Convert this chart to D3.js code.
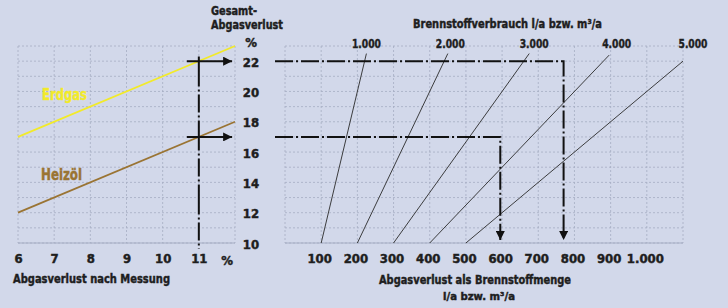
<!DOCTYPE html>
<html>
<head>
<meta charset="utf-8">
<script src="https://cdn.jsdelivr.net/npm/d3@7"></script>
<style>
  body { margin: 0; background: #d2d8ea; }
  text { font-family: "Liberation Sans Narrow", "DejaVu Sans Condensed", sans-serif; font-weight: bold; fill: #1e1e1e; stroke: #1e1e1e; stroke-width: 0.45px; }
</style>
</head>
<body>
<div id="chart"></div>
<script>
var width = 728, height = 308;

// left panel: measured loss (%) -> total loss (%)
var measuredTicks = [6, 7, 8, 9, 10, 11];
var totalTicks = [10, 12, 14, 16, 18, 20, 22];
var erdgas = [[6, 17], [12, 23]];
var heizoel = [[6, 12], [12, 18]];

// right panel: fuel consumption lines
var consumption = [1000, 2000, 3000, 4000, 5000];
var consumptionTop = [22.5, 22.5, 22.5, 22.4, 22];   // total loss % where each line stops
var amountTicks = [100, 200, 300, 400, 500, 600, 700, 800, 900, 1000];

// worked example
var exampleMeasured = 11;
var exampleTotals = [22, 17];
var exampleConsumption = 3500;

var svg = d3.select('#chart').append('svg')
  .attr('width', width)
  .attr('height', height)
  .style('background-color', '#d2d8ea');

var y = d3.scaleLinear().domain([10, 23]).range([243, 46]);
var xL = d3.scaleLinear().domain([6, 12]).range([18, 235]);
var xR = d3.scaleLinear().domain([0, 1100]).range([285, 683]);

var num = function(d) { return d3.format(',')(d).replace(',', '.'); };

var defs = svg.append('defs');
defs.append('marker')
  .attr('id', 'arrow')
  .attr('viewBox', '0 0 10 10')
  .attr('refX', 10).attr('refY', 5)
  .attr('markerWidth', 10).attr('markerHeight', 9)
  .attr('markerUnits', 'userSpaceOnUse')
  .attr('orient', 'auto')
.append('path')
  .attr('d', 'M0,0L10,5L0,10Z')
  .attr('fill', '#111');

// grid
var grid = svg.append('g')
  .attr('stroke', '#a6adc3')
  .attr('stroke-width', 0.8)
  .attr('stroke-dasharray', '2,2');

var yGrid = d3.range(10, 24);

grid.selectAll('.gl-v')
  .data(d3.range(6, 13))
  .enter().append('line')
  .attr('x1', function(d) { return xL(d); })
  .attr('x2', function(d) { return xL(d); })
  .attr('y1', y(23)).attr('y2', y(10));

grid.selectAll('.gl-h')
  .data(yGrid)
  .enter().append('line')
  .attr('x1', xL(6)).attr('x2', xL(12))
  .attr('y1', function(d) { return y(d); })
  .attr('y2', function(d) { return y(d); });

grid.selectAll('.gr-v')
  .data(d3.range(0, 1101, 100))
  .enter().append('line')
  .attr('x1', function(d) { return xR(d); })
  .attr('x2', function(d) { return xR(d); })
  .attr('y1', y(23)).attr('y2', y(10));

grid.selectAll('.gr-h')
  .data(yGrid)
  .enter().append('line')
  .attr('x1', xR(0)).attr('x2', xR(1100))
  .attr('y1', function(d) { return y(d); })
  .attr('y2', function(d) { return y(d); });

// baselines
svg.append('line')
  .attr('x1', xL(6)).attr('x2', xL(12))
  .attr('y1', y(10)).attr('y2', y(10))
  .attr('stroke', '#a6adc3').attr('stroke-width', 1.2);
svg.append('line')
  .attr('x1', xR(0)).attr('x2', xR(1100))
  .attr('y1', y(10)).attr('y2', y(10))
  .attr('stroke', '#a6adc3').attr('stroke-width', 1.2);

// fuel lines
var lineL = d3.line()
  .x(function(d) { return xL(d[0]); })
  .y(function(d) { return y(d[1]); });

svg.append('path')
  .attr('d', lineL(erdgas))
  .attr('fill', 'none')
  .attr('stroke', '#f2ea2a')
  .attr('stroke-width', 1.8);

svg.append('path')
  .attr('d', lineL(heizoel))
  .attr('fill', 'none')
  .attr('stroke', '#9a7433')
  .attr('stroke-width', 1.8);

svg.append('text')
  .attr('x', 42).attr('y', 100)
  .attr('font-size', '16px')
  .attr('textLength', 45).attr('lengthAdjust', 'spacingAndGlyphs')
  .style('fill', '#f2ea2a').style('stroke', '#f2ea2a')
  .text('Erdgas');

svg.append('text')
  .attr('x', 41).attr('y', 180)
  .attr('font-size', '16px')
  .attr('textLength', 41).attr('lengthAdjust', 'spacingAndGlyphs')
  .style('fill', '#9a7433').style('stroke', '#9a7433')
  .text('Heizöl');

// consumption lines
svg.selectAll('.cons')
  .data(consumption)
  .enter().append('line')
  .attr('x1', function(d) { return xR(d * 10 / 100); })
  .attr('y1', y(10))
  .attr('x2', function(d, i) { return xR(d * consumptionTop[i] / 100); })
  .attr('y2', function(d, i) { return y(consumptionTop[i]); })
  .attr('stroke', '#2a2a2a')
  .attr('stroke-width', 0.9);

svg.selectAll('.cons-label')
  .data(consumption)
  .enter().append('text')
  .attr('x', function(d, i) { return xR(d * consumptionTop[i] / 100) + i * 2.5; })
  .attr('y', 48)
  .attr('text-anchor', 'middle')
  .attr('font-size', '13px')
  .attr('textLength', 29).attr('lengthAdjust', 'spacingAndGlyphs')
  .text(num);

svg.append('text')
  .attr('x', 413).attr('y', 28)
  .attr('font-size', '13px')
  .attr('textLength', 189).attr('lengthAdjust', 'spacingAndGlyphs')
  .text('Brennstoffverbrauch l/a  bzw.  m³/a');

// axes
var axL = svg.append('g')
  .attr('transform', 'translate(0,' + (y(10) + 11) + ')')
  .call(d3.axisBottom(xL).tickValues(measuredTicks).tickSize(0).tickPadding(0)
    .tickFormat(d3.format('d')));
axL.select('.domain').remove();
axL.selectAll('text').attr('font-size', '13px').attr('font-family', null).attr('fill', null);

svg.append('text')
  .attr('x', 227).attr('y', y(10) + 22)
  .attr('text-anchor', 'middle')
  .attr('font-size', '13px')
  .text('%');

var axMid = svg.append('g')
  .attr('transform', 'translate(251,0)')
  .call(d3.axisRight(y).tickValues(totalTicks).tickSize(0).tickPadding(0));
axMid.select('.domain').remove();
axMid.selectAll('text').attr('font-size', '13px').attr('font-family', null).attr('fill', null)
  .attr('text-anchor', 'middle').attr('dy', '0.4em');

svg.append('text').attr('x', 251).attr('y', 47).attr('text-anchor', 'middle')
  .attr('font-size', '13px').text('%');
svg.append('text').attr('x', 211).attr('y', 15).attr('font-size', '13px')
  .attr('textLength', 46).attr('lengthAdjust', 'spacingAndGlyphs').text('Gesamt-');
svg.append('text').attr('x', 211).attr('y', 29).attr('font-size', '13px')
  .attr('textLength', 72).attr('lengthAdjust', 'spacingAndGlyphs').text('Abgasverlust');

var axR = svg.append('g')
  .attr('transform', 'translate(-2,' + (y(10) + 11) + ')')
  .call(d3.axisBottom(xR).tickValues(amountTicks).tickSize(0).tickPadding(0)
    .tickFormat(num));
axR.select('.domain').remove();
axR.selectAll('text').attr('font-size', '13px').attr('font-family', null).attr('fill', null);

svg.append('text')
  .attr('x', 13).attr('y', 283)
  .attr('font-size', '13px')
  .attr('textLength', 157).attr('lengthAdjust', 'spacingAndGlyphs')
  .text('Abgasverlust nach Messung');

svg.append('text')
  .attr('x', 379).attr('y', 284)
  .attr('font-size', '13px')
  .attr('textLength', 192).attr('lengthAdjust', 'spacingAndGlyphs')
  .text('Abgasverlust als Brennstoffmenge');

svg.append('text')
  .attr('x', 443).attr('y', 300)
  .attr('font-size', '11px')
  .attr('textLength', 72).attr('lengthAdjust', 'spacingAndGlyphs')
  .text('l/a  bzw.  m³/a');

// worked example
var dashDot = '18,3,2,3';

svg.append('line')
  .attr('x1', xL(exampleMeasured)).attr('x2', xL(exampleMeasured))
  .attr('y1', y(22.3)).attr('y2', y(9.6))
  .attr('stroke', '#111').attr('stroke-width', 2)
  .attr('stroke-dasharray', '30,3,2,3,18,3,2,3');

svg.selectAll('.ex-arrow')
  .data(exampleTotals)
  .enter().append('line')
  .attr('x1', xL(exampleMeasured) - 12)
  .attr('x2', xL(11.92))
  .attr('y1', function(d) { return y(d); })
  .attr('y2', function(d) { return y(d); })
  .attr('stroke', '#111').attr('stroke-width', 2)
  .attr('marker-end', 'url(#arrow)');

svg.selectAll('.ex-path')
  .data(exampleTotals)
  .enter().append('path')
  .attr('d', function(d) {
    var xe = xR(exampleConsumption * d / 100);
    return 'M' + (xR(0) - 10) + ',' + y(d) + 'H' + xe + 'V' + (y(10) - 3);
  })
  .attr('fill', 'none')
  .attr('stroke', '#111').attr('stroke-width', 2)
  .attr('stroke-dasharray', dashDot)
  .attr('marker-end', 'url(#arrow)');
</script>
</body>
</html>
